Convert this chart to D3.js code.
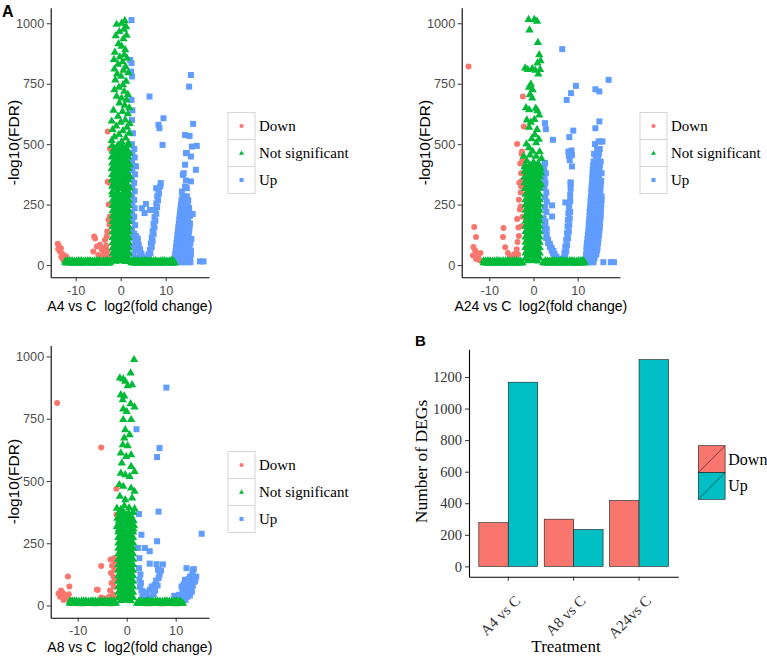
<!DOCTYPE html>
<html><head><meta charset="utf-8">
<script src="https://cdn.jsdelivr.net/npm/d3@7"></script>
<style>body{margin:0;background:#fff}svg{display:block}</style>
</head><body>
<script>
// ---------------- DATA ----------------
const groupLabels = ["Down", "Not significant", "Up"];
const volcanoYTicks = [0, 250, 500, 750, 1000];
const volcanoXTicks = [-10, 0, 10];

// Panel A4 vs C : [log2FC, -log10FDR]
const a4Down = [[-14.0,88],[-13.7,78],[-13.9,66],[-13.3,70],[-13.5,55],[-13.0,47],[-12.6,40],[-13.2,33],[-12.3,28],[-12.8,22],[-11.9,18],[-12.1,35],
 [-6.3,15],[-6.1,56],[-5.9,118],[-5.7,110],[-5.3,77],[-5.0,42],[-4.9,18],[-4.6,84],[-4.4,28],[-4.2,63],[-3.9,42],[-3.8,20],[-3.5,104],[-3.7,68],[-3.4,45],[-3.1,118],[-3.0,139],[-3.2,80],[-2.9,58],[-2.8,35],[-2.5,167],[-2.7,187],[-2.4,201],[-2.7,250],[-2.9,345],[-2.5,340],[-2.4,481],[-2.9,552]];
const a4Up = [[2.4,1013],[2.1,848],[2.4,835],[2.3,800],[2.5,780],[2.4,683],[2.6,640],[2.5,600],[2.7,545],
 [2.5,500],[3.0,480],[2.6,462],[3.1,445],[2.5,428],[3.0,410],[2.6,392],[3.2,375],[2.5,358],[3.0,340],[2.6,322],[3.1,305],[2.5,288],[3.0,270],[2.6,252],[3.1,235],[2.5,218],[3.0,200],[2.6,182],[3.2,165],[2.5,148],[3.0,130],[2.6,112],[3.2,95],[2.7,78],[3.3,62],[2.8,45],[3.5,30],[3.0,20],
 [3.4,120],[3.8,110],[3.6,95],[4.0,85],[3.9,70],[4.3,65],[4.2,52],[4.6,48],[4.5,38],[4.9,35],[4.9,25],[5.3,25],[5.4,16],[5.8,18],
 [6.0,20],[6.3,30],[6.2,45],[6.6,50],[6.5,63],[6.9,75],[6.7,90],[7.1,100],[6.9,115],[7.3,128],[7.1,142],[7.5,155],[7.3,170],[7.7,183],[7.5,198],[7.9,212],[7.7,228],[8.1,240],[7.9,255],[8.3,268],[8.1,285],[8.5,295],[8.4,311],[8.8,325],[8.9,339],
 [6.4,697],[8.4,580],[9.5,607],[8.6,566],[9.3,497],[3.4,408],[4.7,235],[5.6,253],[5.3,215],[6.5,228],[7.9,318],
 [11.6,12],[12.1,12],[12.6,12],[13.1,12],[13.6,12],[14.1,12],[14.6,12],[15.1,12],[15.5,12],
 [11.9,28],[12.4,28],[12.9,28],[13.4,28],[13.9,28],[14.4,28],[14.9,28],[15.4,28],
 [12.1,44],[12.6,44],[13.1,44],[13.6,44],[14.1,44],[14.6,44],[15.1,44],[15.6,44],
 [12.2,60],[12.7,60],[13.2,60],[13.7,60],[14.2,60],[14.7,60],[15.2,60],[15.6,60],
 [12.3,76],[12.8,76],[13.3,76],[13.8,76],[14.3,76],[14.8,76],[15.3,76],
 [12.4,92],[12.9,92],[13.4,92],[13.9,92],[14.4,92],[14.9,92],[15.5,92],
 [12.5,108],[13.0,108],[13.5,108],[14.0,108],[14.5,108],[15.0,108],[15.7,108],
 [12.6,124],[13.1,124],[13.6,124],[14.1,124],[14.6,124],[15.1,124],
 [12.7,140],[13.2,140],[13.7,140],[14.2,140],[14.7,140],[15.2,140],
 [12.8,156],[13.3,156],[13.8,156],[14.3,156],[14.8,156],[15.3,156],
 [12.9,172],[13.4,172],[13.9,172],[14.4,172],[14.9,172],[15.4,172],
 [13.0,188],[13.5,188],[14.0,188],[14.5,188],[15.0,188],
 [13.1,204],[13.6,204],[14.1,204],[14.6,204],[15.1,204],[15.4,204],
 [13.2,220],[13.7,220],[14.2,220],[14.7,220],[15.2,220],
 [13.3,236],[13.8,236],[14.3,236],[14.8,236],[15.2,236],
 [13.4,252],[13.9,252],[14.4,252],[14.9,252],
 [13.5,268],[14.0,268],[14.5,268],[15.0,268],
 [13.7,284],[14.2,284],[14.7,284],
 [15.6,786],[15.2,738],[16.1,584],[14.3,538],[15.3,534],[15.8,490],[16.9,493],[14.7,463],[15.6,449],[16.7,394],[13.8,373],[15.6,346],[14.7,318],[13.6,304],[16.0,211],[17.6,15],[18.4,15],[14.3,324],[14.0,380],[14.5,350],[14.3,415],[14.5,463]];
const a4NS = [[0.9,1010],[0.2,1000],[-0.9,995],[1.2,985],[0.7,975],[-0.3,965],[1.3,950],[-1.1,948],[0.6,935],[-0.5,915],[0.2,905],[1.0,890],[-1.3,880],[0.8,870],[-0.2,860],[1.4,855],[-1.5,850],[0.4,840],[-0.6,830],[1.1,820],[-1.4,810],[0.6,805],[1.7,795],[-0.8,790],[0.1,780],[-1.2,765],[1.2,760],[0.5,745],[-0.4,735],[-1.4,725],[0.8,718],[1.6,705],[-0.9,698],[0.2,690],[1.3,682],[-0.3,670],[0.9,660],[1.9,650],[-1.6,640],[0.4,635],[1.6,625],[-0.6,615],[1.0,600],[-2.0,595],[0.0,590],[2.0,585],[-1.0,575],[1.4,570],[-1.8,560],[0.5,555],[1.9,545],[-0.4,540],[-1.4,530],[1.1,525],[-2.0,515],[0.2,510],[1.7,505],
 [-1.9,494],[-0.6,496],[0.4,492],[1.7,495],[-1.3,482],[-0.1,484],[1.1,480],[-1.8,470],[-0.7,472],[0.5,468],[1.6,471],[-1.3,458],[-0.1,460],[1.1,456],[1.9,462],[-2.0,446],[-0.7,448],[0.5,444],[1.7,447],[-1.3,434],[-0.1,436],[1.1,432],[-1.9,422],[-0.7,424],[0.5,420],[1.6,423],[-1.3,410],[-0.1,412],[1.1,408],[2.0,414],[-2.0,398],[-0.7,400],[0.5,396],[1.7,399],[-1.3,386],[-0.1,388],[1.1,384],[-1.9,374],[-0.7,376],[0.5,372],[1.7,375],[-1.3,362],[-0.1,364],[1.1,360],[2.0,366],[-2.0,350],[-0.7,352],[0.5,348],[1.7,351],[-1.3,338],[-0.1,340],[1.1,336],[-1.9,326],[-0.7,328],[0.5,324],[1.7,327],[-1.3,314],[-0.1,316],[1.1,312],[2.0,318],[-1.9,302],[-0.7,304],[0.5,300],[1.7,303],
 [-1.8,290],[-0.6,291],[0.6,289],[1.8,290],[-1.2,279],[0.0,280],[1.2,278],[-1.8,268],[-0.6,267],[0.6,269],[1.8,268],[-1.2,257],[0.0,256],[1.2,258],[-1.8,246],[-0.6,247],[0.6,245],[1.8,246],[-1.2,235],[0.0,236],[1.2,234],[-1.8,224],[-0.6,223],[0.6,225],[1.8,224],[-1.2,213],[0.0,212],[1.2,214],[-1.8,202],[-0.6,203],[0.6,201],[1.8,202],[-1.2,191],[0.0,192],[1.2,190],[-1.8,180],[-0.6,179],[0.6,181],[1.8,180],[-1.2,169],[0.0,168],[1.2,170],[-1.8,158],[-0.6,159],[0.6,157],[1.8,158],[-1.2,147],[0.0,148],[1.2,146],[-1.8,136],[-0.6,135],[0.6,137],[1.8,136],[-1.2,125],[0.0,124],[1.2,126],[-1.8,114],[-0.6,115],[0.6,113],[1.8,114],[-1.2,103],[0.0,104],[1.2,102],[-1.8,92],[-0.6,91],[0.6,93],[1.8,92],[-1.2,81],[0.0,80],[1.2,82],[-1.8,70],[-0.6,71],[0.6,69],[1.8,70],[-1.2,59],[0.0,60],[1.2,58],[-1.8,48],[-0.6,47],[0.6,49],[1.8,48],[-1.2,37],[0.0,36],[1.2,38],[-1.8,26],[-0.6,27],[0.6,25],[1.8,26],[-1.2,15],[0.0,16],[1.2,14]];
const a4Band = [[-12.3,9],[-11.8,8],[-11.3,9],[-10.8,7],[-10.3,8],[-9.8,9],[-9.3,9],[-8.8,7],[-8.3,8],[-7.8,9],[-7.3,9],[-6.8,8],[-6.3,8],[-5.8,7],[-5.3,9],[-4.8,8],[-4.3,8],[-3.8,9],[-3.3,9],[-2.9,7],[-2.4,9],
 [2.4,9],[2.9,8],[3.3,8],[3.8,7],[4.3,9],[4.8,9],[5.3,8],[5.8,7],[6.3,9],[6.8,8],[7.3,8],[7.8,9],[8.3,9],[8.8,7],[9.3,8],[9.8,9],[10.3,9],[10.8,8],[11.2,8],[11.6,7],[12.0,9],
 [-12.3,16],[-11.8,17],[-11.3,18],[-10.8,18],[-10.3,16],[-9.8,17],[-9.3,18],[-8.8,18],[-8.3,16],[-7.8,17],[-7.3,18],[-6.8,18],[-6.3,16],[-5.8,17],[-5.3,18],[-4.8,18],[-4.3,16],[-3.8,17],[-3.3,18],[-2.9,18],[-2.5,16],
 [2.5,16],[2.9,17],[3.3,18],[3.8,18],[4.3,16],[4.8,17],[5.3,18],[5.8,18],[6.3,16],[6.8,17],[7.3,18],[7.8,18],[8.3,16],[8.8,17],[9.3,18],[9.8,18],[10.3,16],[10.8,17],[11.2,18],[11.6,18]];

// Panel A24 vs C
const a24Down = [[-14.7,821],[-13.4,157],[-13.0,116],[-13.6,75],[-13.2,60],[-12.8,45],[-13.7,40],[-12.5,30],[-12.2,20],[-13.0,25],[-12.0,50],
 [-6.8,153],[-6.9,116],[-6.4,74],[-5.8,50],[-5.3,35],[-4.8,22],[-4.4,45],[-4.0,30],[-3.8,65],[-3.5,45],[-3.6,95],[-3.3,120],[-3.7,190],[-3.4,155],[-3.1,230],[-3.3,270],[-2.9,300],[-3.2,340],[-2.8,380],[-3.0,420],[-2.7,460],[-3.7,501],[-2.2,573],[-2.4,697],[-2.6,350],[-2.5,200],[-2.6,470],[-2.5,435],[-2.8,325],[-2.9,242],[-2.7,160]];
const a24Up = [[6.5,893],[9.6,741],[8.5,711],[7.5,683],[14.0,727],[14.9,718],[17.0,766],[14.9,594],[14.0,566],[2.6,587],[2.8,562],[4.4,518],[8.1,529],[9.0,556],[2.5,419],[8.6,474],[8.0,452],[8.7,408],[8.4,342],[7.2,259],[8.1,253],[4.2,247],[4.2,201],[15.8,12],[17.5,12],[18.2,12],[8.2,434],[7.9,469],[8.7,455],
 [2.6,422],[2.4,400],[2.8,380],[2.5,360],[2.7,340],[2.5,320],[2.9,300],[2.6,280],[3.0,262],[2.6,240],[2.9,220],
 [2.3,194],[2.7,180],[2.6,160],[3.0,150],[2.6,139],[3.0,125],[2.9,112],[3.3,105],[3.3,91],[3.7,88],[3.7,75],[4.1,72],[4.1,60],[4.5,58],[4.4,48],[4.8,45],[4.8,36],[5.2,34],[5.3,26],[5.7,24],[6.0,18],[6.4,20],
 [6.8,29],[7.2,35],[7.0,52],[7.4,58],[7.2,77],[7.6,82],[7.4,105],[7.8,110],[7.6,132],[8.0,138],[7.7,160],[8.1,165],[7.8,187],[8.2,192],[7.9,215],[8.3,220],[8.0,242],[8.3,265],[8.3,290],[8.4,315],[8.4,339],
 [11.7,12],[12.2,12],[12.7,12],[13.2,12],[13.6,12],
 [11.8,28],[12.3,28],[12.8,28],[13.3,28],[13.8,28],
 [11.9,44],[12.4,44],[12.9,44],[13.4,44],[13.9,44],[14.2,44],
 [12.0,60],[12.5,60],[13.0,60],[13.5,60],[14.0,60],[14.4,60],
 [12.0,76],[12.5,76],[13.0,76],[13.5,76],[14.0,76],[14.5,76],
 [12.1,92],[12.6,92],[13.1,92],[13.6,92],[14.1,92],[14.6,92],
 [12.2,108],[12.7,108],[13.2,108],[13.7,108],[14.2,108],[14.7,108],
 [12.3,124],[12.8,124],[13.3,124],[13.8,124],[14.3,124],[14.8,124],
 [12.4,140],[12.9,140],[13.4,140],[13.9,140],[14.4,140],[14.9,140],
 [12.5,156],[13.0,156],[13.5,156],[14.0,156],[14.5,156],[15.0,156],
 [12.5,172],[13.0,172],[13.5,172],[14.0,172],[14.5,172],[15.0,172],
 [12.6,188],[13.1,188],[13.6,188],[14.1,188],[14.6,188],[15.1,188],
 [12.7,204],[13.2,204],[13.7,204],[14.2,204],[14.7,204],[15.2,204],
 [12.7,220],[13.2,220],[13.7,220],[14.2,220],[14.7,220],[15.2,220],
 [12.8,236],[13.3,236],[13.8,236],[14.3,236],[14.8,236],[15.3,236],
 [12.9,252],[13.4,252],[13.9,252],[14.4,252],[14.9,252],[15.3,252],
 [12.9,268],[13.4,268],[13.9,268],[14.4,268],[14.9,268],[15.4,268],
 [13.0,284],[13.5,284],[14.0,284],[14.5,284],[15.0,284],[15.4,284],
 [13.1,300],[13.6,300],[14.1,300],[14.6,300],[15.1,300],
 [13.1,316],[13.6,316],[14.1,316],[14.6,316],[15.1,316],
 [13.2,332],[13.7,332],[14.2,332],[14.7,332],[15.2,332],
 [13.3,348],[13.8,348],[14.3,348],[14.8,348],[15.3,348],
 [13.3,364],[13.8,364],[14.3,364],[14.8,364],
 [13.4,380],[13.9,380],[14.4,380],[14.9,380],[15.4,380],
 [13.4,396],[14.4,396],[14.9,396],
 [13.5,412],[14.0,412],[15.0,412],
 [13.6,428],[14.6,428],[15.2,428],
 [14.1,444],[14.6,444],
 [13.7,460],[14.8,460],
 [14.4,480],[15.0,480],
 [13.9,500],[14.7,511],[15.2,511],[15.6,511]];
const a24NS = [[-1.1,1015],[0.2,1015],[0.8,1008],[-0.9,972],[1.0,920],[1.3,869],[1.6,845],[0.9,835],[-1.9,815],[-1.3,808],[-0.3,812],[0.4,805],[1.5,808],[1.1,790],[-0.6,748],[-1.0,735],[-0.2,725],[-0.8,705],[-0.3,690],[-1.7,650],[-1.0,642],[0.5,648],[0.9,638],[1.3,620],[-1.5,600],[-0.6,590],[0.2,602],[-1.0,570],[0.8,560],[0.3,540],[-0.4,522],[1.2,520],[-1.6,500],[0.6,505],[-1.0,485],[-0.2,470],[1.4,468],[-2.2,450],[-0.8,455],[0.6,450],[1.8,440],[-1.5,430],[0.0,425],[1.0,420],[-2.0,405],[1.6,400],
 [-1.9,412],[-0.8,414],[0.3,410],[1.3,413],[-1.3,400],[-0.2,402],[0.9,398],[-2.0,388],[-0.8,390],[0.3,386],[1.4,389],[-1.4,376],[-0.3,378],[0.9,374],[1.7,380],[-2.0,364],[-0.8,366],[0.3,362],[1.4,365],[-1.4,352],[-0.3,354],[0.9,350],[-2.0,340],[-0.8,342],[0.3,338],[1.5,341],[-1.4,328],[-0.3,330],[0.9,326],[1.7,332],[-1.9,316],[-0.8,318],[0.3,314],[1.4,317],[-1.3,304],[-0.2,306],[0.9,302],
 [-1.8,292],[-0.7,293],[0.4,291],[1.4,292],[-1.25,281],[-0.15,282],[0.9,280],[-1.8,270],[-0.7,269],[0.4,271],[1.4,270],[-1.25,259],[-0.15,258],[0.9,260],[-1.8,248],[-0.7,249],[0.4,247],[1.4,248],[-1.25,237],[-0.15,238],[0.9,236],[-1.8,226],[-0.7,225],[0.4,227],[1.4,226],[-1.25,215],[-0.15,214],[0.9,216],[-1.8,204],[-0.7,205],[0.4,203],[1.4,204],[-1.25,193],[-0.15,194],[0.9,192],[-1.8,182],[-0.7,181],[0.4,183],[1.4,182],[-1.25,171],[-0.15,170],[0.9,172],[-1.8,160],[-0.7,161],[0.4,159],[1.4,160],[-1.25,149],[-0.15,150],[0.9,148],[-1.8,138],[-0.7,137],[0.4,139],[1.4,138],[-1.25,127],[-0.15,126],[0.9,128],[-1.8,116],[-0.7,117],[0.4,115],[1.4,116],[-1.25,105],[-0.15,106],[0.9,104],[-1.8,94],[-0.7,93],[0.4,95],[1.4,94],[-1.25,83],[-0.15,82],[0.9,84],[-1.8,72],[-0.7,73],[0.4,71],[1.4,72],[-1.25,61],[-0.15,62],[0.9,60],[-1.8,50],[-0.7,49],[0.4,51],[1.4,50],[-1.25,39],[-0.15,38],[0.9,40],[-1.8,28],[-0.7,29],[0.4,27],[1.4,28],[-1.25,17],[-0.15,18],[0.9,16]];
const a24Band = [[-11.3,9],[-10.8,8],[-10.3,8],[-9.8,7],[-9.3,9],[-8.8,8],[-8.3,8],[-7.8,9],[-7.3,9],[-6.8,7],[-6.3,8],[-5.8,9],[-5.3,9],[-4.8,8],[-4.3,8],[-3.8,7],[-3.3,9],[-2.9,8],[-2.5,9],
 [2.2,9],[2.7,8],[3.2,8],[3.7,7],[4.2,9],[4.7,8],[5.2,8],[5.7,9],[6.2,9],[6.7,7],[7.2,8],[7.7,9],[8.2,9],[8.7,8],[9.2,8],[9.7,7],[10.2,9],[10.7,8],[11.0,8],[11.6,9],
 [-11.3,17],[-10.8,17],[-10.3,18],[-9.8,17],[-9.3,16],[-8.8,17],[-8.3,18],[-7.8,18],[-7.3,16],[-6.8,17],[-6.3,18],[-5.8,18],[-5.3,16],[-4.8,17],[-4.3,18],[-3.8,18],[-3.3,16],[-2.9,17],
 [2.7,18],[3.2,17],[3.7,16],[4.2,18],[4.7,18],[5.2,17],[5.7,16],[6.2,18],[6.7,18],[7.2,17],[7.7,16],[8.2,18],[8.7,18],[9.2,17],[9.7,16],[10.2,18],[10.7,18],[11.0,17],[11.3,17]];

// Panel A8 vs C
const a8Down = [[-14.2,813],[-5.2,634],[-2.1,469],[-2.1,364],[-5.2,159],[-5.9,63],[-4.9,29],[-6.1,63],[-5.2,32],[-12.0,116],[-11.7,76],[-13.4,60],[-13.0,50],[-12.6,40],[-13.6,35],[-12.2,28],[-11.5,22],[-12.9,22],[-11.8,45],[-13.9,48],
 [-3.3,185],[-2.6,190],[-2.4,170],[-3.0,160],[-2.5,145],[-3.2,130],[-2.7,115],[-2.4,100],[-3.1,90],[-2.6,75],[-3.4,60],[-2.8,45],[-3.6,35],[-4.2,28],[-2.5,30]];
const a8Up = [[8.1,875],[2.0,708],[6.7,632],[6.2,596],[6.5,377],[2.5,367],[3.0,284],[15.3,288],[2.3,231],[2.6,190],[3.7,231],[4.7,218],[6.2,258],[4.7,168],[6.1,166],[7.4,165],[6.4,143],[6.7,123],[5.7,83],[5.1,76],[4.7,63],[4.1,50],[3.4,56],[2.7,76],[2.6,103],[2.5,150],[2.8,125],[3.2,35],[4.0,25],[5.5,45],[6.0,100],[3.6,40],[4.4,36],[5.0,30],[5.8,60],[6.3,80],[2.9,90],[3.0,60],[6.5,110],[7.0,140],
 [12.2,150],[13.5,143],[13.7,146],[13.9,114],[11.9,103],[12.9,116],[14.2,116],[11.2,76],[10.2,36],[11.5,56],[12.1,90],[13.1,100],[12.6,85],[13.5,80],[12.2,70],[12.8,60],[13.3,55],[11.4,66],[11.8,50],[10.7,43],[9.7,39],[12.4,35],[10.4,30],[13.8,95],[11.0,28],[11.6,32],[12.0,22],[12.9,40],[13.2,70],[12.5,105],[11.6,85],[13.4,125],[14.0,100]];
const a8NS = [[1.5,987],[0.8,933],[-1.4,913],[-0.7,909],[-0.3,900],[1.1,886],[0.2,882],[-1.2,846],[-0.5,841],[-0.8,826],[0.8,810],[1.6,797],[-0.7,789],[0.0,779],[-0.7,746],[0.9,746],[-0.3,705],[0.6,685],[-0.5,672],[-0.8,645],[0.2,641],[-1.2,612],[-0.1,598],[0.9,605],[-1.0,572],[0.9,558],[1.6,538],[-1.2,531],[-0.3,525],[0.6,518],[-1.5,485],[-0.7,478],[0.9,471],[1.6,458],[-1.4,438],[-0.3,424],[1.1,431],[-2.0,390],[-1.2,385],[0.5,392],[1.6,388],[-0.5,400],
 [-1.6,372],[-0.6,374],[0.4,370],[1.3,373],[-1.1,361],[-0.1,363],[0.9,359],[-1.9,350],[-1.1,348],[-0.1,352],[0.9,346],[-1.6,339],[-0.6,341],[0.4,337],[1.4,340],[-1.2,328],[-0.1,330],[0.9,326],[-2.0,317],[-1.1,315],[-0.1,319],[0.9,313],[1.5,320],[-1.6,306],[-0.6,308],[0.4,304],[1.4,307],
 [-1.7,295],[-0.7,296],[0.3,294],[1.3,295],[-1.2,284],[-0.2,285],[0.8,283],[-1.7,273],[-0.7,272],[0.3,274],[1.3,273],[-1.2,262],[-0.2,261],[0.8,263],[-1.7,251],[-0.7,252],[0.3,250],[1.3,251],[-1.2,240],[-0.2,241],[0.8,239],[-1.7,229],[-0.7,228],[0.3,230],[1.3,229],[-1.2,218],[-0.2,217],[0.8,219],[-1.7,207],[-0.7,208],[0.3,206],[1.3,207],[-1.2,196],[-0.2,197],[0.8,195],[-1.7,185],[-0.7,184],[0.3,186],[1.3,185],[-1.2,174],[-0.2,173],[0.8,175],[-1.7,163],[-0.7,164],[0.3,162],[1.3,163],[-1.2,152],[-0.2,153],[0.8,151],[-1.7,141],[-0.7,140],[0.3,142],[1.3,141],[-1.2,130],[-0.2,129],[0.8,131],[-1.7,119],[-0.7,120],[0.3,118],[1.3,119],[-1.2,108],[-0.2,109],[0.8,107],[-1.7,97],[-0.7,96],[0.3,98],[1.3,97],[-1.2,86],[-0.2,85],[0.8,87],[-1.7,75],[-0.7,76],[0.3,74],[1.3,75],[-1.2,64],[-0.2,65],[0.8,63],[-1.7,53],[-0.7,52],[0.3,54],[1.3,53],[-1.2,42],[-0.2,41],[0.8,43],[-1.7,31],[-0.7,32],[0.3,30],[1.3,31],[-1.2,20],[-0.2,21],[0.8,19]];
const a8Band = [[-11.6,9],[-11.1,8],[-10.7,8],[-10.2,9],[-9.7,9],[-9.2,7],[-8.8,8],[-8.3,9],[-7.8,9],[-7.3,8],[-6.9,8],[-6.4,7],[-5.9,9],[-5.4,8],[-5.0,8],[-4.5,9],[-4.0,9],[-3.5,7],[-3.1,8],[-2.6,9],[-2.2,9],
 [2.1,9],[2.5,8],[3.0,8],[3.5,9],[4.0,9],[4.4,7],[4.9,8],[5.4,9],[5.9,9],[6.3,8],[6.8,8],[7.3,7],[7.8,9],[8.2,8],[8.7,8],[9.2,9],[9.7,9],[10.1,7],[10.6,8],[11.0,9],[11.5,9],
 [-11.6,17],[-11.1,17],[-10.7,18],[-10.2,18],[-9.7,16],[-9.2,17],[-8.8,18],[-8.3,18],[-7.8,16],[-7.3,17],[-6.9,18],[-6.4,18],[-5.9,16],[-5.4,17],[-5.0,18],[-4.5,18],[-4.0,16],[-3.5,17],[-3.1,18],[-2.6,18],
 [2.5,18],[3.0,17],[3.5,16],[4.0,18],[4.4,18],[4.9,17],[5.4,16],[5.9,18],[6.3,18],[6.8,17],[7.3,16],[7.8,18],[8.2,18],[8.7,17],[9.2,16],[9.7,18],[10.1,18],[10.6,17],[11.0,17]];

// Panel B: bar chart
const treatments = ["A4 vs C", "A8 vs C", "A24vs C"];
const degTypes = ["Down", "Up"];
const downDEGs = [277, 299, 417];
const upDEGs = [1167, 234, 1310];
const barYTicks = [0, 200, 400, 600, 800, 1000, 1200];

// ---------------- DRAW ----------------
const W = 767, H = 657;
const COL = {"Down": "#F8766D", "Not significant": "#00BA38", "Up": "#619CFF"};
const SANS = "'Liberation Sans', Arial, Helvetica, sans-serif";
const SERIF = "'Liberation Serif', 'Times New Roman', Times, serif";

const svg = d3.select("body").append("svg").attr("width", W).attr("height", H)
  .attr("viewBox", `0 0 ${W} ${H}`);
svg.append("rect").attr("width", W).attr("height", H).attr("fill", "#fff");

const triPath = d3.symbol(d3.symbolTriangle, 30)();
const triSmall = d3.symbol(d3.symbolTriangle, 11)();

function styleAxis(g) {
  g.select(".domain").attr("stroke", "#000").attr("stroke-width", 1.1);
  g.selectAll(".tick line").attr("stroke", "#333").attr("stroke-width", 1);
}

function volcano(cfg) {
  const x = d3.scaleLinear().domain(cfg.xd).range(cfg.xr);
  const y = d3.scaleLinear().domain(cfg.yd).range(cfg.yr);
  const g = svg.append("g");
  const pts = g.append("g");
  pts.append("g").selectAll("circle").data(cfg.down).join("circle")
    .attr("cx", d => x(d[0])).attr("cy", d => y(d[1])).attr("r", 3)
    .attr("fill", COL["Down"]);
  pts.append("g").selectAll("rect").data(cfg.up).join("rect")
    .attr("x", d => x(d[0]) - 3).attr("y", d => y(d[1]) - 3)
    .attr("width", 6).attr("height", 6).attr("fill", COL["Up"]);
  pts.append("g").selectAll("path").data(cfg.ns.concat(cfg.band)).join("path")
    .attr("transform", d => `translate(${x(d[0])},${y(d[1])})`)
    .attr("d", triPath).attr("fill", COL["Not significant"]);

  const xa = g.append("g").attr("transform", `translate(0,${cfg.yr[0]})`)
    .call(d3.axisBottom(x).tickValues(volcanoXTicks).tickFormat(d => String(d))
      .tickSize(4).tickPadding(4.5).tickSizeOuter(0));
  const ya = g.append("g").attr("transform", `translate(${cfg.xr[0]},0)`)
    .call(d3.axisLeft(y).tickValues(volcanoYTicks).tickFormat(d => String(d))
      .tickSize(4).tickPadding(2.5).tickSizeOuter(0));
  [xa, ya].forEach(a => {
    styleAxis(a);
    a.selectAll("text").attr("font-family", SANS).attr("font-size", 12.7).attr("fill", "#4D4D4D");
  });

  g.append("text").attr("x", (cfg.xr[0] + cfg.xr[1]) / 2).attr("y", cfg.yr[0] + 34)
    .attr("text-anchor", "middle").attr("font-family", SANS).attr("font-size", 14)
    .attr("fill", "#000").style("white-space", "pre").text(cfg.xTitle);
  g.append("text").attr("transform", `translate(${cfg.xr[0] - 37},${(cfg.yr[0] + cfg.yr[1]) / 2}) rotate(-90)`)
    .attr("text-anchor", "middle").attr("dy", "0.35em").attr("font-family", SANS).attr("font-size", 15.5)
    .attr("fill", "#000").text("-log10(FDR)");

  // legend
  const lg = g.append("g").attr("transform", `translate(${cfg.legend[0]},${cfg.legend[1]})`);
  groupLabels.forEach((lab, i) => {
    const gy = i * 27;
    lg.append("rect").attr("x", 0).attr("y", gy).attr("width", 27).attr("height", 27)
      .attr("fill", "#fff").attr("stroke", "#D6D6D6").attr("stroke-width", 1);
    if (lab === "Down") lg.append("circle").attr("cx", 13.5).attr("cy", gy + 13.5).attr("r", 2.1).attr("fill", COL[lab]);
    else if (lab === "Up") lg.append("rect").attr("x", 11.5).attr("y", gy + 11.5).attr("width", 4).attr("height", 4).attr("fill", COL[lab]);
    else lg.append("path").attr("transform", `translate(13.5,${gy + 13.8})`).attr("d", triSmall).attr("fill", COL[lab]);
    lg.append("text").attr("x", 31).attr("y", gy + 13.5).attr("dy", "0.35em")
      .attr("font-family", SERIF).attr("font-size", 15).attr("fill", "#000").text(lab);
  });
}

volcano({down: a4Down, up: a4Up, ns: a4NS, band: a4Band, xd: [-15.56, 19.62], xr: [50.7, 209],
  yd: [-50.6, 1063.9], yr: [277.3, 7.8], xTitle: "A4 vs C  log2(fold change)", legend: [228, 112.5]});
volcano({down: a24Down, up: a24Up, ns: a24NS, band: a24Band, xd: [-16.24, 19.57], xr: [461.7, 620],
  yd: [-50.6, 1063.9], yr: [277.3, 7.8], xTitle: "A24 vs C  log2(fold change)", legend: [640, 112.5]});
volcano({down: a8Down, up: a8Up, ns: a8NS, band: a8Band, xd: [-15.51, 16.8], xr: [50.7, 209],
  yd: [-49, 1044], yr: [617.7, 345.5], xTitle: "A8 vs C  log2(fold change)", legend: [228, 451.5]});

// panel labels
svg.append("text").attr("x", 2).attr("y", 17).attr("font-family", SANS).attr("font-weight", "bold")
  .attr("font-size", 16).text("A");
svg.append("text").attr("x", 415).attr("y", 346).attr("font-family", SANS).attr("font-weight", "bold")
  .attr("font-size", 15).text("B");

// ---- bar chart ----
(function () {
  const x0 = d3.scaleBand().domain(treatments).range([469, 678.3]).paddingInner(0.1).paddingOuter(0.15);
  const x1 = d3.scaleBand().domain(degTypes).range([0, x0.bandwidth()]);
  const y = d3.scaleLinear().domain([-65.5, 1375.5]).range([576.7, 349.3]);
  const g = svg.append("g");
  const rows = treatments.map((t, i) => ({t, vals: [{k: "Down", v: downDEGs[i]}, {k: "Up", v: upDEGs[i]}]}));
  const barFill = {"Down": "#F8766D", "Up": "#00BFC4"};
  g.selectAll("g.grp").data(rows).join("g").attr("class", "grp")
    .attr("transform", d => `translate(${x0(d.t)},0)`)
    .selectAll("rect").data(d => d.vals).join("rect")
    .attr("x", d => x1(d.k)).attr("width", x1.bandwidth())
    .attr("y", d => y(d.v)).attr("height", d => y(0) - y(d.v))
    .attr("fill", d => barFill[d.k]).attr("stroke", "#1a1a1a").attr("stroke-width", 0.6);

  const xa = g.append("g").attr("transform", `translate(0,576.7)`)
    .call(d3.axisBottom(x0).tickSize(4).tickSizeOuter(0));
  styleAxis(xa);
  xa.selectAll("text").attr("y", 0).attr("dy", 0).attr("x", 0)
    .attr("text-anchor", "end").attr("transform", "translate(13,25) rotate(-45)")
    .attr("font-family", SERIF).attr("font-size", 15).attr("fill", "#333");
  const ya = g.append("g").attr("transform", `translate(469,0)`)
    .call(d3.axisLeft(y).tickValues(barYTicks).tickFormat(d => String(d)).tickSize(4).tickPadding(3).tickSizeOuter(0));
  styleAxis(ya);
  ya.selectAll("text").attr("font-family", SERIF).attr("font-size", 14.5).attr("fill", "#333");

  g.append("text").attr("transform", `translate(421,461.5) rotate(-90)`).attr("text-anchor", "middle")
    .attr("dy", "0.35em").attr("font-family", SERIF).attr("font-size", 17.5).text("Number of DEGs");
  g.append("text").attr("x", 566).attr("y", 652).attr("text-anchor", "middle")
    .attr("font-family", SERIF).attr("font-size", 17).text("Treatment");

  const lg = g.append("g").attr("transform", "translate(698.3,445.7)");
  degTypes.forEach((k, i) => {
    const gy = i * 26.8;
    lg.append("rect").attr("x", 0).attr("y", gy).attr("width", 26.8).attr("height", 26.8)
      .attr("fill", barFill[k]).attr("stroke", "#1a1a1a").attr("stroke-width", 0.6);
    lg.append("line").attr("x1", 0).attr("y1", gy + 26.8).attr("x2", 26.8).attr("y2", gy)
      .attr("stroke", "#1a1a1a").attr("stroke-width", 0.6);
    lg.append("text").attr("x", 30).attr("y", gy + 13.4).attr("dy", "0.35em")
      .attr("font-family", SERIF).attr("font-size", 16).text(k);
  });
})();
</script>
</body></html>
